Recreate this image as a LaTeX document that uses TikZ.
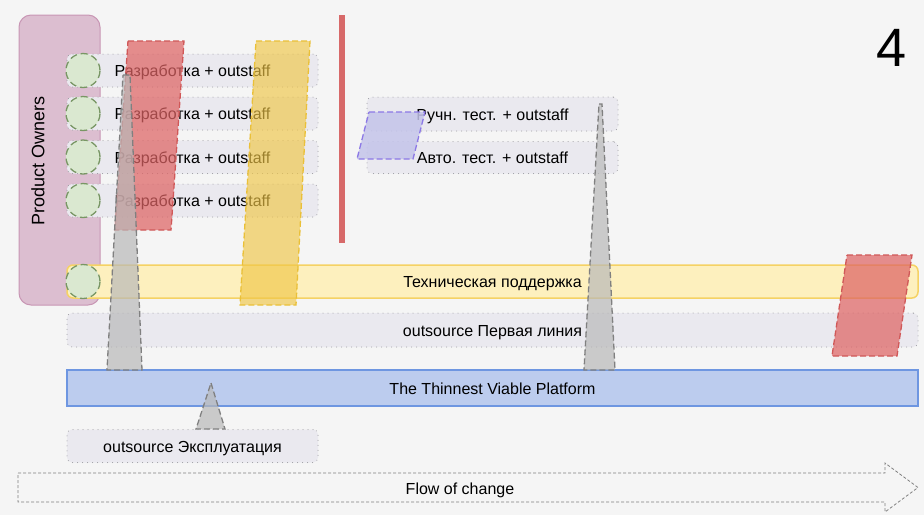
\documentclass[tikz,border=0pt]{standalone}
\usepackage{fontspec}
\setmainfont{Liberation Sans}
\definecolor{bgc}{RGB}{245,245,245}
\definecolor{pofill}{RGB}{220,190,208}
\definecolor{podraw}{RGB}{200,150,180}
\definecolor{rowfill}{RGB}{234,233,239}
\definecolor{rowdraw}{RGB}{150,150,155}
\definecolor{grfill}{RGB}{218,232,208}
\definecolor{grdraw}{RGB}{120,150,100}
\definecolor{redfill}{RGB}{222,100,100}
\definecolor{reddraw}{RGB}{208,88,88}
\definecolor{yelfill}{RGB}{240,198,70}
\definecolor{yeldraw}{RGB}{234,192,56}
\definecolor{grayfill}{RGB}{185,185,185}
\definecolor{graydraw}{RGB}{128,128,128}
\definecolor{redline}{RGB}{215,105,105}
\definecolor{purfill}{RGB}{196,196,234}
\definecolor{purdraw}{RGB}{140,120,230}
\definecolor{tsfill}{RGB}{253,240,190}
\definecolor{tsdraw}{RGB}{245,210,100}
\definecolor{plfill}{RGB}{188,204,238}
\definecolor{pldraw}{RGB}{110,150,225}
\begin{document}
\begin{tikzpicture}[x=1pt,y=-1pt,
  txt/.style={font=\fontsize{16}{19}\selectfont, text=black, text height=12pt, text depth=0pt},
  rowbox/.style={txt, draw=rowdraw, fill=rowfill, line width=1pt, line cap=round,
    dash pattern=on 0pt off 5pt, rounded corners=5pt, minimum height=33pt, inner sep=0pt},
  greencirc/.style={circle, draw=grdraw, fill=grfill, line width=1.3pt, dash pattern=on 7pt off 4pt, minimum size=34pt, inner sep=0pt},
  redpara/.style={fill=redfill, fill opacity=0.72, draw=reddraw, draw opacity=1, line width=1.3pt, dash pattern=on 6pt off 3pt},
  yelpara/.style={fill=yelfill, fill opacity=0.65, draw=yeldraw, draw opacity=1, line width=1.3pt, dash pattern=on 6pt off 3pt},
  purpara/.style={fill=purfill, fill opacity=0.85, draw=purdraw, draw opacity=1, line width=1.3pt, dash pattern=on 6pt off 3pt},
  graytrap/.style={fill=grayfill, fill opacity=0.7, draw=graydraw, draw opacity=1, line width=1.3pt, dash pattern=on 6pt off 3pt},
]
\fill[bgc] (0,0) rectangle (924,515);
\useasboundingbox (0,0) rectangle (924,515);

% Product owners
\node[draw=podraw, fill=pofill, line width=1pt, rounded corners=12pt, minimum width=81pt, minimum height=290pt, inner sep=0pt] (po) at (59.5,160) {};
\node[font=\fontsize{18}{21}\selectfont, rotate=90] (potxt) at (38,161) {Product Owners};

% dev rows
\node[rowbox, minimum width=251pt] (d1) at (192.5,70.5) {Разработка + outstaff};
\node[rowbox, minimum width=251pt] (d2) at (192.5,113.5) {Разработка + outstaff};
\node[rowbox, minimum width=251pt] (d3) at (192.5,157) {Разработка + outstaff};
\node[rowbox, minimum width=251pt] (d4) at (192.5,200.5) {Разработка + outstaff};

% test rows
\node[rowbox, minimum width=251pt, minimum height=34pt] (t1) at (492.5,114) {Ручн. тест. + outstaff};
\node[rowbox, minimum width=251pt, minimum height=32pt] (t2) at (492.5,157.5) {Авто. тест. + outstaff};

% tech support
\node[txt, draw=tsdraw, fill=tsfill, line width=1.5pt, rounded corners=6pt, minimum width=851pt, minimum height=33pt, inner sep=0pt] (ts) at (492.5,281.5) {Техническая поддержка};
% first line
\node[rowbox, minimum width=851pt, minimum height=34pt] (fl) at (492.5,330) {outsource Первая линия};
% platform
\node[txt, draw=pldraw, fill=plfill, line width=1.5pt, minimum width=851pt, minimum height=36pt, inner sep=0pt] (pl) at (492.5,388) {The Thinnest Viable Platform};
% ops
\node[rowbox, minimum width=251pt, minimum height=33pt] (ops) at (192.5,446) {outsource Эксплуатация};

% green circles
\node[greencirc] (c1) at (83,70.5) {};
\node[greencirc] (c2) at (83,113.5) {};
\node[greencirc] (c3) at (83,157) {};
\node[greencirc] (c4) at (83,200.5) {};
\node[greencirc] (c5) at (83,281.5) {};

% red vertical line
\draw[redline, line width=6pt] (342,15) -- (342,243);

% parallelograms
\draw[redpara] (128,41) -- (184,41) -- (171,230) -- (115,230) -- cycle;
\draw[yelpara] (256,41) -- (310,41) -- (296,305) -- (240,305) -- cycle;
\draw[purpara] (369,112) -- (425,112) -- (413,159) -- (357,159) -- cycle;

% gray trapezoids
\draw[graytrap] (123,75) -- (130,75) -- (142,370) -- (107,370) -- cycle;
\draw[graytrap] (599,104) -- (602,104) -- (615,370) -- (584,370) -- cycle;
\draw[graytrap] (211,383) -- (225,429) -- (196,429) -- cycle;

% red right parallelogram
\draw[redpara] (847,255) -- (912,255) -- (897,356) -- (832,356) -- cycle;

% flow of change
\draw[graydraw, line width=0.8pt, dash pattern=on 3pt off 2pt]
  (18,473) -- (885,473) -- (885,463) -- (918,487.5) -- (885,512) -- (885,502) -- (18,502) -- cycle;
\node[txt] (flow) at (460,488) {Flow of change};

% page number
\node[font=\fontsize{54}{60}\selectfont] (num) at (892,48) {4};
\end{tikzpicture}
\end{document}
